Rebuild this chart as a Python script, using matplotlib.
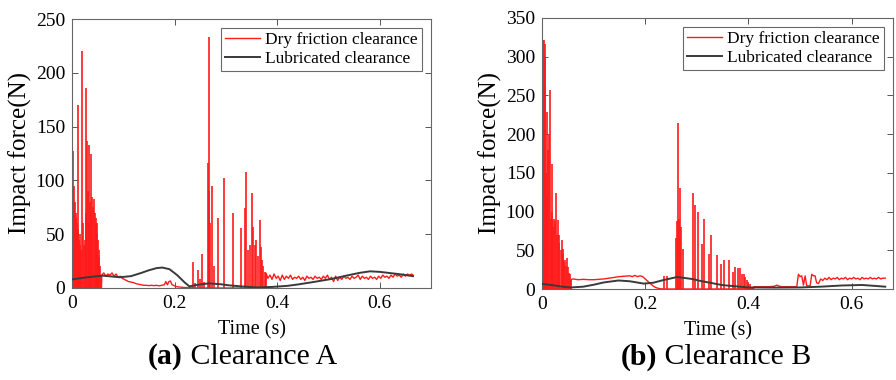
import numpy as np
import matplotlib
matplotlib.use("Agg")
import matplotlib.pyplot as plt

plt.rcParams['font.family'] = ['Liberation Serif', 'DejaVu Serif']

# ---------------- Panel (a) Clearance A ----------------
# dry friction: background trace (t, F)
a_dry_t = [0.000, 0.0575, 0.058, 0.062, 0.066, 0.070, 0.074, 0.078, 0.082, 0.086, 0.090, 0.094, 0.098,
           0.102, 0.106, 0.110, 0.115, 0.120, 0.125, 0.130, 0.135, 0.140, 0.145, 0.150, 0.155,
           0.160, 0.165, 0.170, 0.175, 0.180, 0.183, 0.186, 0.189, 0.192, 0.195, 0.198, 0.202,
           0.207, 0.212, 0.218, 0.224, 0.230, 0.2356, 0.3775, 0.378,
           0.382, 0.386, 0.390, 0.394, 0.398, 0.402, 0.406, 0.410, 0.414, 0.418, 0.422, 0.426,
           0.430, 0.434, 0.438, 0.442, 0.446, 0.450, 0.454, 0.458, 0.462, 0.466, 0.470, 0.474,
           0.478, 0.482, 0.486, 0.490, 0.494, 0.498, 0.502, 0.506, 0.510, 0.514, 0.518, 0.522,
           0.526, 0.530, 0.534, 0.538, 0.542, 0.546, 0.550, 0.554, 0.558, 0.562, 0.566, 0.570,
           0.574, 0.578, 0.582, 0.586, 0.590, 0.594, 0.598, 0.602, 0.606, 0.610, 0.614, 0.618,
           0.622, 0.626, 0.630, 0.634, 0.638, 0.642, 0.646, 0.650, 0.654, 0.658, 0.662, 0.665]
a_dry_f = [0, 0, 12, 14, 11, 13, 12, 14, 11, 13, 10, 11, 9,
           8, 7, 6, 5.5, 5, 4, 3.5, 3, 2.5, 2.5, 2.2, 2.5,
           2.2, 2.5, 2, 2.5, 3, 6, 3, 6, 6.5, 3, 2.5, 1.5,
           1, 0.8, 0.5, 0.4, 0.3, 0, 0, 14,
           9, 12, 8, 13, 9, 11, 7, 12, 8, 11, 9, 12,
           8, 10, 9, 11, 8, 10, 7, 11, 9, 10, 8, 11,
           9, 10, 8, 11, 9, 12, 8, 10, 6, 11, 7, 10,
           8, 11, 9, 10, 8, 11, 9, 10, 12, 8, 11, 9,
           10, 8, 11, 9, 10, 8, 11, 9, 12, 10, 11, 9,
           12, 10, 13, 11, 12, 10, 13, 11, 13, 12, 13, 12]
# dry friction: impact spikes (t, peak F)
a_spk_t = [0.0010, 0.0019, 0.0030, 0.0045, 0.0058, 0.0070, 0.0085, 0.0100, 0.0112, 0.0123,
           0.0135, 0.0150, 0.0165, 0.0180, 0.0200, 0.0215, 0.0230, 0.0245, 0.0265, 0.0280,
           0.0297, 0.0310, 0.0325, 0.0336, 0.0350, 0.0368, 0.0380, 0.0395, 0.0410, 0.0433,
           0.0445, 0.0460, 0.0472, 0.0484, 0.0497, 0.0510, 0.0523, 0.0536, 0.0550, 0.0565,
           0.2356, 0.2400, 0.2453, 0.2490, 0.2537, 0.2580, 0.2647, 0.2665, 0.2680, 0.2700,
           0.2725, 0.2760, 0.2840, 0.2960, 0.3140, 0.3290, 0.3366, 0.3398, 0.3430, 0.3470,
           0.3500, 0.3530, 0.3560, 0.3590, 0.3620, 0.3656, 0.3680, 0.3705, 0.3730, 0.3755,
           0.3780]
a_spk_f = [60, 127, 95, 80, 80, 70, 65, 60, 55, 170,
           45, 40, 50, 35, 220, 60, 40, 45, 186, 70,
           137, 90, 60, 133, 80, 125, 70, 85, 75, 83,
           70, 65, 60, 60, 50, 45, 35, 29, 20, 12,
           24, 5, 17, 8, 32, 6, 116, 90, 233, 60,
           95, 20, 65, 102, 70, 56, 74, 108, 35, 40,
           88, 57, 40, 45, 30, 63, 38, 26, 20, 15,
           14]
# lubricated
a_lub_t = [0.000, 0.030, 0.060, 0.093, 0.115, 0.135, 0.150, 0.165, 0.176, 0.190, 0.205,
           0.220, 0.229, 0.245, 0.267, 0.290, 0.306, 0.330, 0.360, 0.390, 0.420, 0.442,
           0.470, 0.506, 0.540, 0.560, 0.581, 0.600, 0.636, 0.665]
a_lub_f = [8, 10, 11.5, 10, 11, 14, 16.5, 18.5, 19, 17.5, 12,
           5, 1.5, 3, 4.3, 3.5, 2.5, 1.5, 0.5, 1, 2, 3.4,
           5.5, 8.4, 12, 14, 15.5, 15, 13, 11]

# ---------------- Panel (b) Clearance B ----------------
b_dry_t = [0.000, 0.0553, 0.0557, 0.060, 0.070, 0.080, 0.090, 0.100, 0.110, 0.120, 0.130, 0.140,
           0.150, 0.160, 0.170, 0.175, 0.180, 0.185, 0.190, 0.195, 0.200, 0.205, 0.210,
           0.215, 0.220, 0.227, 0.2356, 0.4100, 0.4104, 0.420, 0.430, 0.440, 0.450, 0.455, 0.460,
           0.465, 0.470, 0.480, 0.4935, 0.4968, 0.500, 0.5032, 0.5065, 0.5097, 0.5130,
           0.5160, 0.5194, 0.5226, 0.5258, 0.529, 0.532, 0.5355,
           0.540, 0.544, 0.548, 0.552, 0.556, 0.560, 0.564, 0.568, 0.572, 0.576, 0.580,
           0.584, 0.588, 0.592, 0.596, 0.600, 0.604, 0.608, 0.612, 0.616, 0.620, 0.624,
           0.628, 0.632, 0.636, 0.640, 0.644, 0.648, 0.652, 0.656, 0.660, 0.665]
b_dry_f = [0, 0, 12, 13, 12, 12.5, 12, 12, 12.5, 13, 14, 15,
           16, 16.5, 17, 16, 17.5, 16, 17, 16, 13, 10, 7,
           4, 2, 0.5, 0, 0, 3, 3, 3, 3, 3.5, 5, 3.5,
           3, 3, 3, 3, 19, 16, 17, 5, 17, 4,
           4, 4, 19, 17, 17, 8, 7,
           13, 11, 14, 12, 15, 12, 14, 13, 15, 12, 14,
           13, 15, 12, 14, 13, 15, 13, 14, 12, 15, 13,
           14, 13, 15, 13, 14, 13, 15, 13, 14, 14]
b_spk_t = [0.0010, 0.0026, 0.0039, 0.0050, 0.0062, 0.0075, 0.0090, 0.0103, 0.0120, 0.0135,
           0.0155, 0.0170, 0.0185, 0.0200, 0.0215, 0.0233, 0.0250, 0.0271, 0.0290, 0.0311,
           0.0325, 0.0337, 0.0360, 0.0382, 0.0400, 0.0414, 0.0430, 0.0453, 0.0470, 0.0492,
           0.0510, 0.0531, 0.0545, 0.0557,
           0.2364, 0.2429, 0.2591, 0.2620, 0.2642, 0.2655, 0.2668, 0.2688, 0.2727, 0.2920,
           0.2965, 0.3017, 0.3094, 0.3146, 0.3243, 0.3275, 0.3385, 0.3463, 0.3534, 0.3630,
           0.3695, 0.3740, 0.3792, 0.3837, 0.3882, 0.3910, 0.3940, 0.3970, 0.4000, 0.4035,
           0.4070]
b_spk_f = [250, 321, 322, 300, 317, 150, 120, 229, 180, 200,
           257, 90, 100, 162, 80, 91, 88, 124, 70, 89,
           70, 59, 50, 63, 45, 52, 35, 37, 30, 40,
           28, 21, 20, 12,
           17, 17, 66, 88, 215, 90, 130, 80, 52, 124,
           109, 100, 58, 91, 45, 70, 44, 32, 37, 37,
           22, 28, 27, 27, 20, 19, 15, 12, 9, 6,
           3]
b_lub_t = [0.000, 0.020, 0.040, 0.056, 0.080, 0.100, 0.120, 0.148, 0.170, 0.197, 0.215,
           0.235, 0.262, 0.290, 0.310, 0.350, 0.400, 0.450, 0.500, 0.540, 0.580, 0.620,
           0.645, 0.665]
b_lub_f = [6.5, 5, 3, 2, 3, 5.5, 8.5, 11, 10, 7, 8,
           11.5, 15.5, 13, 10, 5, 2, 1.8, 2, 3, 4.5, 5.2,
           4, 3]

panels = [
    dict(dry_t=a_dry_t, dry_f=a_dry_f, spk_t=a_spk_t, spk_f=a_spk_f,
         lub_t=a_lub_t, lub_f=a_lub_f, ylim=(0, 250), yticks=[0, 50, 100, 150, 200, 250],
         xlim=(0, 0.70), tag='(a)', name=' Clearance A',
         rect=[72/896, 1-288/380, 359/896, 269/380], split=183/896),
    dict(dry_t=b_dry_t, dry_f=b_dry_f, spk_t=b_spk_t, spk_f=b_spk_f,
         lub_t=b_lub_t, lub_f=b_lub_f, ylim=(0, 350), yticks=[0, 50, 100, 150, 200, 250, 300, 350],
         xlim=(0, 0.68), tag='(b)', name=' Clearance B',
         rect=[542/896, 1-289/380, 351/896, 271/380], split=657/896),
]

fig = plt.figure(figsize=(8.96, 3.8), dpi=100)
red = '#ff1a1a'
dark = '#3a3a3a'
for p in panels:
    ax = fig.add_axes(p['rect'])
    ax.plot(p['dry_t'], p['dry_f'], color=red, lw=1.0, label='Dry friction clearance', zorder=2)
    ax.vlines(p['spk_t'], 0, p['spk_f'], color=red, lw=1.2, zorder=2)
    ax.plot(p['lub_t'], p['lub_f'], color=dark, lw=1.4, label='Lubricated clearance', zorder=3)
    ax.set_xlim(*p['xlim'])
    ax.set_ylim(*p['ylim'])
    ax.set_yticks(p['yticks'])
    ax.set_xticks([0, 0.2, 0.4, 0.6])
    ax.set_xticklabels(['0', '0.2', '0.4', '0.6'])
    ax.tick_params(direction='in', top=True, right=True, length=4, width=0.7,
                   labelsize=14, colors='#555555', labelcolor='black', pad=5)
    for s in ax.spines.values():
        s.set_color('#666666')
        s.set_linewidth(0.8)
    ax.set_xlabel('Time (s)', fontsize=14.5, labelpad=6)
    ax.set_ylabel('Impact force(N)', fontsize=18, labelpad=3)
    leg = ax.legend(loc='upper right', fontsize=12.5, frameon=True, fancybox=False,
                    borderaxespad=0.5, handlelength=2.0, handletextpad=0.3,
                    borderpad=0.25, labelspacing=0.15)
    leg.get_frame().set_edgecolor('#444444')
    leg.get_frame().set_linewidth(0.8)
    fig.text(p['split'], 1-357/380, p['tag'], ha='right', va='center',
             fontsize=21.5, fontweight='bold')
    fig.text(p['split'], 1-357/380, p['name'], ha='left', va='center', fontsize=21.5)

fig.savefig('out.png', dpi=100)
